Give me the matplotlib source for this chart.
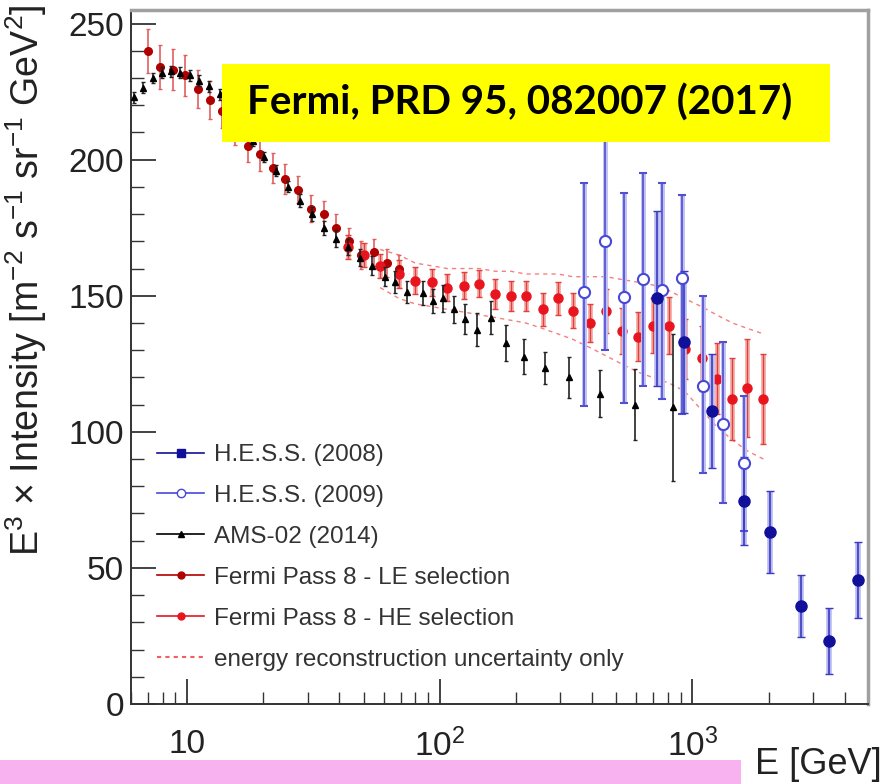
import matplotlib
matplotlib.use('Agg')
import matplotlib.pyplot as plt
import matplotlib.ticker as ticker
from matplotlib.lines import Line2D
from matplotlib.patches import Rectangle

plt.rcParams['font.family'] = ['Liberation Sans', 'DejaVu Sans']
plt.rcParams['mathtext.fontset'] = 'custom'
plt.rcParams['mathtext.rm'] = 'Liberation Sans'
plt.rcParams['mathtext.it'] = 'Liberation Sans:italic'

# AMS-02 (2014)
ams_e = [6.15, 6.7, 7.3, 7.95, 8.65, 9.4, 10.25, 11.2, 12.25, 13.45, 14.85, 16.45,
         18.25, 20.25, 22.5, 25.0, 27.9, 31.1, 34.7, 38.7, 43.2, 48.3, 54.1, 60.9,
         66.5, 74.2, 85.8, 94.0, 103, 113.5, 125.4, 140, 160, 183, 215, 262, 326,
         429, 595, 834]
ams_v = [223, 226.5, 230, 232, 232.5, 232, 231, 229, 227, 224, 219, 213,
         207, 201, 196, 190, 185, 180, 175, 171, 168, 164, 161, 157,
         155, 151.5, 151, 148, 149, 145, 141.5, 137.5, 142, 132.7, 127.6, 123.5, 120,
         114, 110, 109]
ams_err = [2, 2, 2, 2, 2, 2, 2, 2, 2, 2, 2, 2,
           2, 2, 2, 2, 2.5, 2.5, 2.5, 3, 3, 3, 3.5, 3.5,
           4, 4, 4.5, 4.5, 5, 5, 5.5, 6, 6, 6.5, 6.5, 6, 7.4,
           8.6, 13, 27]

# Fermi Pass 8 - LE selection
le_e = [7.0, 7.8, 8.8, 9.8, 11.0, 12.3, 13.8, 15.5, 17.4, 19.5, 21.9, 24.5,
        27.5, 30.9, 34.7, 38.9, 43.7, 49.0, 55.0, 61.7, 69.2]
le_v = [240, 234, 233, 231, 226, 222, 218, 212, 205, 202, 197, 193,
        189, 182, 180, 175, 170, 165, 166, 162, 160]
le_err = [8, 8, 7.5, 7.5, 7, 7, 6.5, 6.5, 6, 6, 5.5, 5.5,
          5, 5, 5, 5, 5, 5, 5, 5, 5]

# Fermi Pass 8 - HE selection
he_e = [43.4, 50.2, 58.1, 69, 80, 93, 107, 125, 143, 166, 191, 219, 255, 293,
        336, 392, 453, 524, 606, 695, 804, 930, 1086, 1245, 1439, 1649, 1909]
he_v = [168, 165, 161, 158, 155.6, 155, 153, 153.7, 154.4, 150.7, 150, 150, 145, 149,
        144.5, 140, 144.5, 137, 135, 139, 139, 130.5, 127, 119.5, 112, 116, 112]
he_err = [4.5, 4.5, 4.5, 5, 5, 5, 5, 5, 5, 5.5, 5.5, 5.5, 6, 6,
          6.5, 7, 8, 8.5, 9, 10, 10.5, 11, 12, 13, 15, 18, 16.5]
# energy reconstruction uncertainty only (drawn from 58 GeV up)
band_e = [58.1, 69, 80, 93, 107, 125, 143, 166, 191, 219, 255, 293,
          336, 392, 453, 524, 606, 695, 804, 930, 1086, 1245, 1439, 1649, 1909]
band_hi = [167, 165, 162, 161, 160, 160, 160, 159, 159, 158, 158, 158,
           157, 157, 157, 156, 155, 154, 152, 149, 146, 143, 140, 138, 136]
band_lo = [153, 149, 147, 146, 145, 144, 143, 142, 141, 140, 138, 136,
           134, 131, 128, 125, 122, 120, 118, 115, 108, 102, 97, 93, 90]

# H.E.S.S. (2009)
h09_e = [371, 449, 538, 640, 760, 912, 1096, 1315, 1593]
h09_v = [151.5, 170, 149.6, 156, 152, 156.6, 117, 103, 88.6]
h09_up = [40, 50, 38, 39, 39.5, 30.5, 33, 30, 24.5]
h09_lo = [42, 40, 39, 39, 40, 50, 32, 29, 25]

# H.E.S.S. (2008)
h08_e = [727, 929, 1199, 1593, 2032, 2698, 3483, 4530]
h08_v = [149, 133, 107.7, 74.6, 63.2, 36, 23.2, 45.6]
h08_err = [32, 26, 21, 16, 15, 11.5, 12, 14]

labels = ['H.E.S.S. (2008)', 'H.E.S.S. (2009)', 'AMS-02 (2014)',
          'Fermi Pass 8 - LE selection', 'Fermi Pass 8 - HE selection',
          'energy reconstruction uncertainty only']

W, H = 884, 784
fig = plt.figure(figsize=(W / 100, H / 100), dpi=100)
ax = fig.add_axes([131 / W, 1 - 704 / H, (868 - 131) / W, (704 - 10) / H])

c_h08, c_h09, c_le, c_he, c_band = '#10109a', '#4848d8', '#b00000', '#e8141e', '#f06060'

# dashed band
ax.plot(band_e, band_hi, ls=(0, (3, 3)), color=c_band, lw=1.0, alpha=0.8, zorder=2)
ax.plot(band_e, band_lo, ls=(0, (3, 3)), color=c_band, lw=1.0, alpha=0.8, zorder=2)

# AMS
ax.errorbar(ams_e, ams_v, yerr=ams_err, fmt='^', ms=5, color='black',
            ecolor='#222222', elinewidth=1.2, capsize=1.5, zorder=4)
# Fermi LE
ax.errorbar(le_e, le_v, yerr=le_err, fmt='o', ms=5.5, color=c_le, ecolor='#e06060',
            elinewidth=1.2, capsize=1.5, zorder=3)
# Fermi HE
ax.errorbar(he_e, he_v, yerr=he_err, fmt='none', ecolor='#f5b0a8', elinewidth=3.5, zorder=3)
ax.errorbar(he_e, he_v, yerr=he_err, fmt='o', ms=6.5, color=c_he, ecolor='#e04040',
            elinewidth=1.0, capsize=2, zorder=3)
# HESS 2009
ax.errorbar(h09_e, h09_v, yerr=[h09_lo, h09_up], fmt='none', ecolor='#c0c0f4',
            elinewidth=3.5, zorder=5)
ax.errorbar(h09_e, h09_v, yerr=[h09_lo, h09_up], fmt='o', ms=8, mfc='white',
            mec=c_h09, mew=1.5, ecolor='#5050d0', elinewidth=1.2, capsize=3, zorder=6)
# HESS 2008
ax.errorbar(h08_e, h08_v, yerr=h08_err, fmt='none', ecolor='#b8b8f0',
            elinewidth=4, zorder=5)
ax.errorbar(h08_e, h08_v, yerr=h08_err, fmt='o', ms=8, color=c_h08,
            ecolor='#3a3ac0', elinewidth=1.2, capsize=3, zorder=6)

ax.set_xscale('log')
ax.set_xlim(6.0, 4950)
ax.set_ylim(0, 255)
ax.xaxis.set_major_locator(ticker.FixedLocator([10, 100, 1000]))
ax.xaxis.set_major_formatter(ticker.FixedFormatter(['10', '$10^2$', '$10^3$']))
ax.xaxis.set_minor_locator(ticker.LogLocator(base=10, subs=range(2, 10)))
ax.xaxis.set_minor_formatter(ticker.NullFormatter())
ax.yaxis.set_major_locator(ticker.MultipleLocator(50))
ax.yaxis.set_minor_locator(ticker.MultipleLocator(10))
ax.tick_params(which='both', direction='in', top=False, right=False, color='#333333')
ax.tick_params(which='major', length=18, width=1.3, labelsize=24, labelcolor='#222222')
ax.tick_params(which='minor', length=9, width=1.0)
ax.tick_params(axis='x', which='major', pad=18)
ax.tick_params(axis='y', which='major', pad=5)
for s in ['left', 'bottom']:
    ax.spines[s].set_color('#333333')
    ax.spines[s].set_linewidth(1.4)
for s in ['top', 'right']:
    ax.spines[s].set_color('#a0a0a0')
    ax.spines[s].set_linewidth(2.5)

ax.set_ylabel(r'E$^{3}$ $\times$ Intensity [m$^{-2}$ s$^{-1}$ sr$^{-1}$ GeV$^{2}$]',
              fontsize=27, loc='top', color='#222222')
ax.yaxis.set_label_coords((49 - 131) / 737, 1.0 + 6 / 694)

handles = [
    Line2D([], [], color=c_h08, marker='s', ms=6, lw=1.2),
    Line2D([], [], color=c_h09, marker='o', ms=6, mfc='white', lw=1.2),
    Line2D([], [], color='black', marker='^', ms=5, lw=1.2),
    Line2D([], [], color=c_le, marker='o', ms=5, lw=1.2),
    Line2D([], [], color=c_he, marker='o', ms=5, lw=1.2),
    Line2D([], [], color=c_band, ls=(0, (2, 2)), lw=1.5),
]
leg = ax.legend(handles, labels, loc='upper left',
                bbox_to_anchor=((157 - 131) / 737, (704 - 444) / 694),
                frameon=False, fontsize=17.5, handlelength=1.95, handletextpad=0.4,
                labelspacing=0.78, borderpad=0, borderaxespad=0)
for t in leg.get_texts():
    t.set_color('#333333')
leg.set_zorder(8)

# yellow banner
fig.add_artist(Rectangle((222 / W, 1 - 142 / H), (830 - 222) / W, (142 - 64) / H,
                         transform=fig.transFigure, facecolor='#ffff00',
                         edgecolor='none', zorder=10))
fig.text((243 + 797) / 2 / W, 1 - 103 / H, 'Fermi, PRD 95, 082007 (2017)',
         fontsize=29, fontweight='bold', family='Lato', ha='center', va='center',
         color='black', zorder=11)

# pink strip at bottom
fig.add_artist(Rectangle((0, 0), 741 / W, (784 - 760) / H, transform=fig.transFigure,
                         facecolor='#f7b2ef', edgecolor='none', zorder=10))
fig.text(882 / W, 2 / H, 'E [GeV]', fontsize=26, ha='right', va='bottom',
         color='#222222', zorder=11)

fig.savefig('out.png', dpi=100)
